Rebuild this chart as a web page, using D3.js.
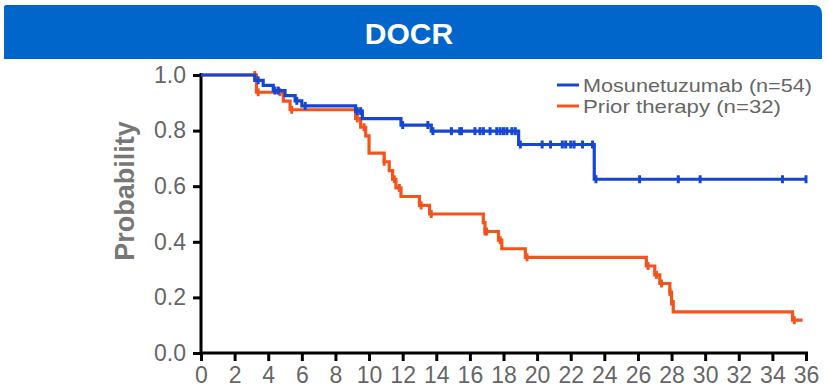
<!DOCTYPE html>
<html>
<head>
<meta charset="utf-8">
<script src="https://cdn.jsdelivr.net/npm/d3@7"></script>
<style>
  body { margin: 0; background: #fff; }
  text { font-family: Arial, "Liberation Sans", sans-serif; }
</style>
</head>
<body>
<script>
// step curves: time (months) where survival drops, and the new value
const mosunTimes = [0, 3.2, 3.7, 4.3, 5.0, 5.6, 6.0, 9.2, 9.6, 11.9, 13.7, 18.9, 23.4];
const mosunSurv = [1.0, 0.981, 0.963, 0.944, 0.926, 0.907, 0.889, 0.870, 0.843, 0.820, 0.798, 0.750, 0.625];
const mosunCensor = [3.4, 4.4, 4.6, 5.7, 6.2, 9.3, 9.5, 12.0, 13.5, 13.8, 14.9, 15.4, 15.5, 16.3, 16.6, 16.8, 17.2,
  17.6, 17.8, 18.0, 18.2, 18.5, 18.7, 19.0, 20.3, 20.8, 21.5, 21.7, 22.0, 22.2, 22.7, 23.3, 23.5,
  26.1, 28.4, 29.7, 34.6, 36.0];
const mosunEnd = 36;

const priorTimes = [0, 3.3, 4.9, 5.3, 9.2, 9.5, 9.8, 10.0, 10.9, 11.2, 11.4, 11.6, 11.9, 13.0, 13.6,
  16.8, 16.9, 17.7, 17.9, 19.3, 26.5, 27.0, 27.3, 27.9, 28.0, 28.1, 35.2];
const priorSurv = [1.0, 0.938, 0.906, 0.875, 0.844, 0.812, 0.781, 0.719, 0.688, 0.656, 0.625, 0.594, 0.563, 0.531, 0.500,
  0.469, 0.437, 0.406, 0.375, 0.344, 0.313, 0.281, 0.250, 0.219, 0.185, 0.148, 0.118];
const priorCensor = [3.2, 3.4, 4.7, 5.4, 9.3, 9.7, 10.9, 11.5, 11.8, 13.1, 13.7, 16.9, 17.0, 17.8, 19.4,
  26.6, 27.1, 27.4, 27.9, 28.0, 35.3];
const priorEnd = 35.8;

const xTicks = d3.range(0, 37, 2);
const yTicks = [0, 0.2, 0.4, 0.6, 0.8, 1.0];
const legendLabels = ["Mosunetuzumab (n=54)", "Prior therapy (n=32)"];
const legendWidths = [229, 198];
const titleText = "DOCR";

const W = 827, H = 392;
const blue = "#1546d4", orange = "#f4541c";

const svg = d3.select("body").append("svg").attr("width", W).attr("height", H);

// title bar
const bx = 4, by = 5, bw = 818, bh = 54, r = 9;
svg.append("path")
  .attr("d", `M${bx},${by + 2} Q${bx},${by} ${bx + 2},${by} L${bx + bw - r},${by} Q${bx + bw},${by} ${bx + bw},${by + r} L${bx + bw},${by + bh} L${bx},${by + bh} Z`)
  .attr("fill", "#0066cc");
svg.append("text")
  .attr("x", 409).attr("y", 44)
  .attr("text-anchor", "middle")
  .attr("fill", "#fff")
  .attr("font-size", 30).attr("font-weight", "bold")
  .text(titleText);

const x = d3.scaleLinear().domain([0, 36]).range([201, 806]);
const y = d3.scaleLinear().domain([0, 1]).range([353, 75]);

// axes
const xAxis = svg.append("g").attr("transform", "translate(0,353)")
  .call(d3.axisBottom(x).tickValues(xTicks).tickSize(8).tickPadding(4).tickSizeOuter(0));
const yAxis = svg.append("g").attr("transform", "translate(201,0)")
  .call(d3.axisLeft(y).tickValues(yTicks).tickFormat(d3.format(".1f")).tickSize(8).tickPadding(7).tickSizeOuter(0));
[xAxis, yAxis].forEach(g => {
  g.select(".domain").attr("stroke", "#000").attr("stroke-width", 3);
  g.selectAll(".tick line").attr("stroke", "#000").attr("stroke-width", 3);
  g.selectAll(".tick text").attr("fill", "#666").attr("font-size", 23)
    .attr("font-family", "Arial, 'Liberation Sans', sans-serif");
});
xAxis.select(".domain").attr("d", "M201,0H808");
yAxis.select(".domain").attr("d", "M0,353V73");
xAxis.selectAll(".tick text").attr("dy", "0.78em");

svg.append("text")
  .attr("transform", "translate(134,191) rotate(-90)")
  .attr("text-anchor", "middle")
  .attr("fill", "#777")
  .attr("font-size", 27).attr("font-weight", "bold")
  .text("Probability");

// curves
function stepPoints(times, surv, end) {
  const pts = times.map((t, i) => [t, surv[i]]);
  pts.push([end, surv[surv.length - 1]]);
  return pts;
}
function survAt(times, surv, t) {
  const i = d3.bisectRight(times, t) - 1;
  return surv[Math.max(0, i)];
}
const line = d3.line().x(d => x(d[0])).y(d => y(d[1])).curve(d3.curveStepAfter);

const series = [
  { times: priorTimes, surv: priorSurv, censor: priorCensor, end: priorEnd, color: orange },
  { times: mosunTimes, surv: mosunSurv, censor: mosunCensor, end: mosunEnd, color: blue }
];

series.forEach(s => {
  svg.append("path")
    .datum(stepPoints(s.times, s.surv, s.end))
    .attr("d", line)
    .attr("fill", "none")
    .attr("stroke", s.color)
    .attr("stroke-width", 3.2);
  svg.append("g").selectAll("line")
    .data(s.censor)
    .join("line")
    .attr("x1", d => x(d)).attr("x2", d => x(d))
    .attr("y1", d => y(survAt(s.times, s.surv, d)) - 4)
    .attr("y2", d => y(survAt(s.times, s.surv, d)) + 4)
    .attr("stroke", s.color)
    .attr("stroke-width", 3);
});

// legend
const legend = svg.append("g");
[blue, orange].forEach((c, i) => {
  legend.append("line")
    .attr("x1", 557).attr("x2", 579)
    .attr("y1", 85 + i * 21).attr("y2", 85 + i * 21)
    .attr("stroke", c).attr("stroke-width", 3);
  legend.append("text")
    .attr("x", 583).attr("y", 92 + i * 21)
    .attr("fill", "#666").attr("font-size", 18.5)
    .attr("textLength", legendWidths[i])
    .attr("lengthAdjust", "spacingAndGlyphs")
    .text(legendLabels[i]);
});
</script>
</body>
</html>
